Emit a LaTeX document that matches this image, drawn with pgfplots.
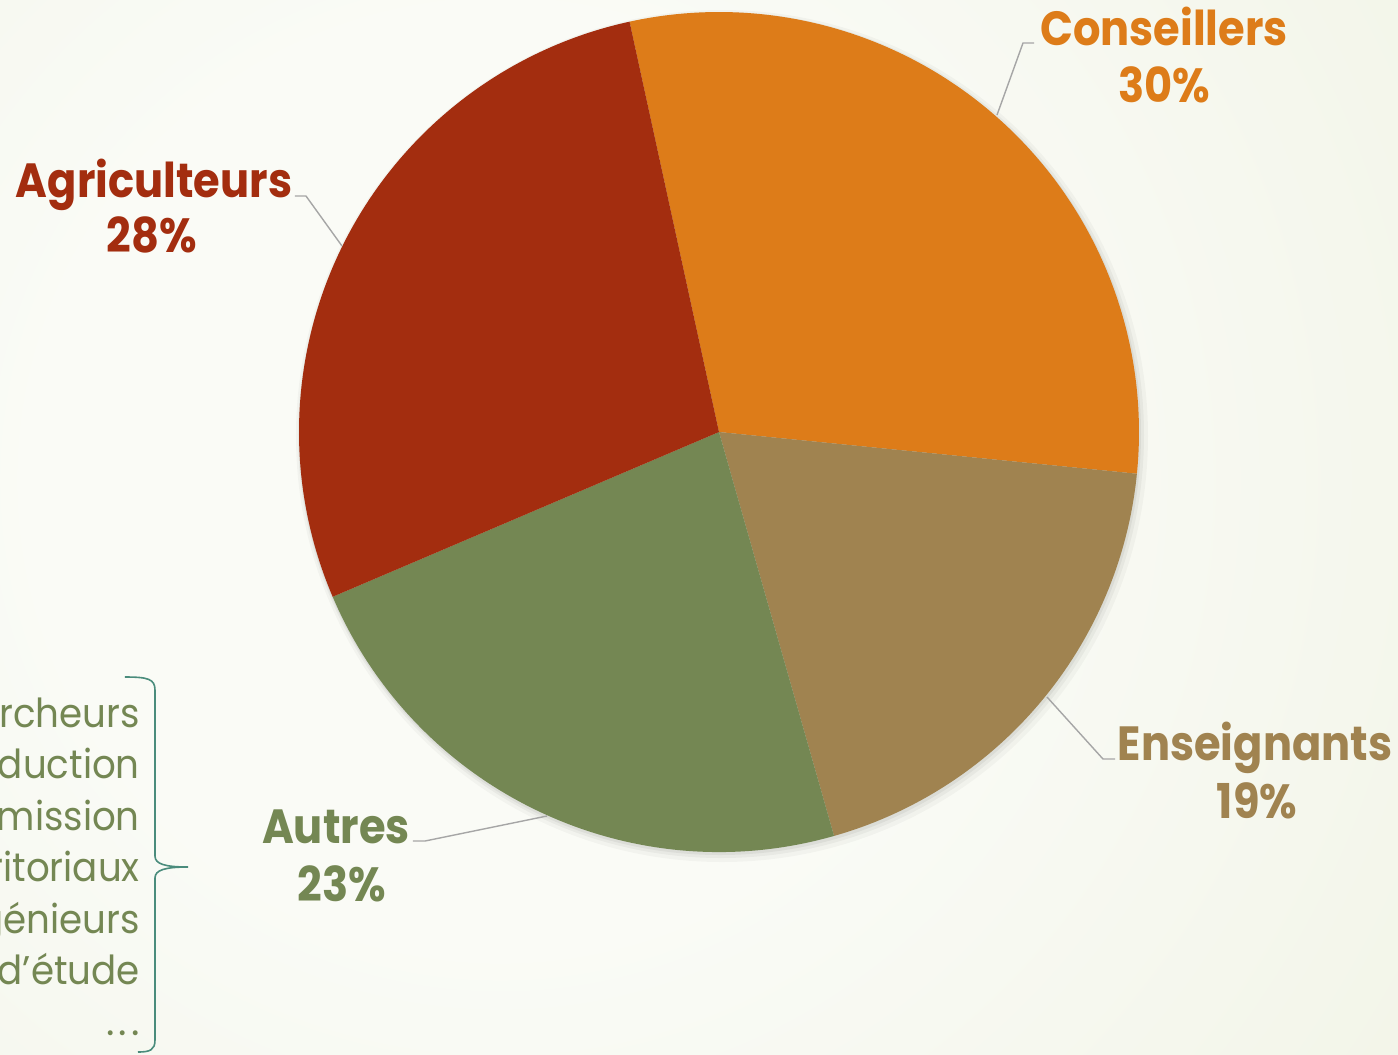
\documentclass[border=0pt]{standalone}
\usepackage{pgfplots}
\pgfplotsset{compat=1.18}
\usepackage{pgfplotstable}
\usepackage{graphicx}
\usepackage{fontspec}
\setmainfont{Poppins}

\definecolor{pie0}{HTML}{DD7C19}% Conseillers
\definecolor{pie1}{HTML}{A08350}% Enseignants
\definecolor{pie2}{HTML}{748753}% Autres
\definecolor{pie3}{HTML}{A32D0F}% Agriculteurs
\definecolor{leader}{HTML}{A6A6A6}
\definecolor{brace}{HTML}{4A8C7C}
\definecolor{bgin}{HTML}{FAFBF6}
\definecolor{bgout}{HTML}{E3E9CE}

\pgfdeclareradialshading{bgshade}{\pgfpoint{0bp}{0bp}}{%
  color(0bp)=(bgin); color(10bp)=(bgin); color(50bp)=(bgout)}

\pgfplotstableread{
name value
Conseillers 30
Enseignants 19
Autres 23
Agriculteurs 28
}\piedata

\newcommand\lab[1]{\scalebox{0.9}[1]{#1}}
\newcommand\oth[1]{\scalebox{0.93}[1]{#1}}

\begin{document}
\begin{tikzpicture}
\useasboundingbox (0,0) rectangle (1398pt,1055pt);
\clip (0,0) rectangle (1398pt,1055pt);
\begin{axis}[
  at={(0,0)}, anchor=south west,
  scale only axis, width=1398pt, height=1055pt,
  xmin=0, xmax=1398, ymin=0, ymax=1055,
  y dir=reverse, hide axis, clip=false,
]
% background
\shade[shading=bgshade] (axis cs:500,480) circle[radius=1150pt];

% soft shadow under the pie
\fill[black, opacity=0.03] (axis cs:722,436) circle[radius=426pt];
\fill[black, opacity=0.04] (axis cs:721,435) circle[radius=423pt];
\fill[black, opacity=0.05] (axis cs:720,434) circle[radius=421pt];

% slices, clockwise from the top
\def\startang{102.3}
\pgfplotsforeachungrouped \i in {0,...,3}{%
  \pgfplotstablegetelem{\i}{value}\of\piedata
  \pgfmathsetmacro\endang{\startang-3.6*\pgfplotsretval}%
  \edef\temp{\noexpand\fill[pie\i] (axis cs:719,432) -- ++(\startang:420pt)
    arc[start angle=\startang, end angle=\endang, radius=420pt] -- cycle;}%
  \temp
  \global\let\startang\endang
}

% leader lines
\draw[leader, line width=1.4pt] (axis cs:997,115) -- (axis cs:1023,43) -- (axis cs:1034,43);
\draw[leader, line width=1.4pt] (axis cs:295,196) -- (axis cs:306,196) -- (axis cs:342,246);
\draw[leader, line width=1.4pt] (axis cs:413,841) -- (axis cs:425,841) -- (axis cs:547,816);
\draw[leader, line width=1.4pt] (axis cs:1047,697) -- (axis cs:1103,759) -- (axis cs:1115,759);

% data labels
\tikzset{lbl/.style={anchor=base, inner sep=0pt, font=\bfseries\fontsize{48}{48}\selectfont}}
\node[lbl, text=pie0] at (axis cs:1164,45) {\lab{Conseillers}};
\node[lbl, text=pie0] at (axis cs:1164,102) {\lab{30\%}};
\node[lbl, text=pie3] at (axis cs:154,197) {\lab{Agriculteurs}};
\node[lbl, text=pie3] at (axis cs:152,252) {\lab{28\%}};
\node[lbl, text=pie2] at (axis cs:336,843) {\lab{Autres}};
\node[lbl, text=pie2] at (axis cs:342,901) {\lab{23\%}};
\node[lbl, text=pie1] at (axis cs:1255,760) {\lab{Enseignants}};
\node[lbl, text=pie1] at (axis cs:1257,818) {\lab{19\%}};

% list of the "Autres"
\tikzset{oth/.style={anchor=base east, inner sep=0pt, text=pie2, font=\fontsize{40}{40}\selectfont}}
\node[oth] at (axis cs:140,727) {\oth{Chercheurs}};
\node[oth] at (axis cs:140,778) {\oth{Production}};
\node[oth] at (axis cs:140,830) {\oth{Commission}};
\node[oth] at (axis cs:140,881) {\oth{Agents territoriaux}};
\node[oth] at (axis cs:140,933) {\oth{Ingénieurs}};
\node[oth] at (axis cs:140,984) {\oth{Bureaux d’étude}};
\node[oth] at (axis cs:140,1035) {.\kern4pt.\kern4pt.};

% brace
\draw[brace, line width=1.6pt]
  (axis cs:125,677) .. controls (axis cs:148,677) and (axis cs:155,679) .. (axis cs:155,690)
  -- (axis cs:155,856) .. controls (axis cs:155,864) and (axis cs:165,867) .. (axis cs:188,867)
  .. controls (axis cs:165,867) and (axis cs:155,870) .. (axis cs:155,878)
  -- (axis cs:155,1040) .. controls (axis cs:155,1050) and (axis cs:150,1052) .. (axis cs:138,1052);
\end{axis}
\end{tikzpicture}
\end{document}
